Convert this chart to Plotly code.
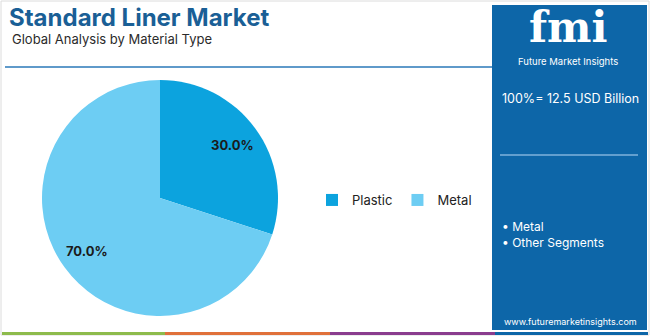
import math
import plotly.graph_objects as go

W, H = 650, 336
categories = ["Plastic", "Metal"]
shares = [30.0, 70.0]
colors = ["#0ca3de", "#6dcdf3"]
title = "Standard Liner Market"
subtitle = "Global Analysis by Material Type"
total_text = "100%= 12.5 USD Billion"
segments = ["Metal", "Other Segments"]
website = "www.futuremarketinsights.com"

def px(x): return x / W
def py(y): return 1 - y / H

# pie geometry (pixels)
CX, CY, R = 160, 198, 118

fig = go.Figure()
fig.add_trace(go.Pie(
    labels=categories, values=shares, sort=False, direction="clockwise", rotation=0,
    marker=dict(colors=colors, line=dict(width=0)),
    textinfo="none",
    domain=dict(x=[px(CX - R), px(CX + R)], y=[py(CY + R), py(CY - R)]),
    hoverinfo="label+percent",
))

shapes = []
shapes.append(dict(type="rect", xref="paper", yref="paper", x0=px(1), x1=px(649), y0=py(335), y1=py(1),
                   line=dict(color="#dcdcdc", width=1), fillcolor="rgba(0,0,0,0)", layer="below"))
shapes.append(dict(type="rect", xref="paper", yref="paper", x0=px(492), x1=px(647), y0=py(330), y1=py(5),
                   line=dict(width=0), fillcolor="#0d66a8", layer="below"))
shapes.append(dict(type="line", xref="paper", yref="paper", x0=px(5), x1=px(492), y0=py(67), y1=py(67),
                   line=dict(color="#2a78b8", width=1.5)))
shapes.append(dict(type="line", xref="paper", yref="paper", x0=px(500), x1=px(638), y0=py(155), y1=py(155),
                   line=dict(color="#7fb3dc", width=1.5)))
for x0, x1, c in [(2, 165, "#8dbb4c"), (165, 330, "#e0703a"), (330, 495, "#8a3c8e"), (495, 648, "#0d66a8")]:
    shapes.append(dict(type="rect", xref="paper", yref="paper", x0=px(x0), x1=px(x1), y0=py(335), y1=py(332),
                       line=dict(width=0), fillcolor=c))

ann = []
# percentage labels placed at slice mid-angles computed from the data
total = sum(shares)
cum = 0.0
for v in shares:
    mid = (cum + v / 2) / total * 2 * math.pi
    cum += v
    lx = CX + 0.76 * R * math.sin(mid)
    ly = CY - 0.76 * R * math.cos(mid)
    ann.append(dict(text=f"<b>{v / total * 100:.1f}%</b>", x=px(lx), y=py(ly), xanchor="center", yanchor="middle",
                    showarrow=False, font=dict(family="Inter", size=13, color="#1b1b1b")))

ann.append(dict(text=f"<b>{title}</b>", x=px(7), y=py(17), xanchor="left", yanchor="middle", showarrow=False,
                font=dict(family="Inter", size=24, color="#1a5f96")))
ann.append(dict(text=subtitle, x=px(10), y=py(39), xanchor="left", yanchor="middle", showarrow=False,
                font=dict(family="Inter", size=13, color="#2b2b2b")))
ann.append(dict(text="<b>fmi</b>", x=px(568), y=py(27), xanchor="center", yanchor="middle", showarrow=False,
                font=dict(family="DejaVu Serif", size=42, color="white")))
ann.append(dict(text="Future Market Insights", x=px(568), y=py(61), xanchor="center", yanchor="middle", showarrow=False,
                font=dict(family="Inter", size=9.5, color="white")))
ann.append(dict(text=total_text, x=px(500), y=py(98), xanchor="left", yanchor="middle", showarrow=False,
                font=dict(family="Inter", size=12.5, color="white")))
for i, s in enumerate(segments):
    ann.append(dict(text="• " + s, x=px(500), y=py(226 + 16 * i), xanchor="left", yanchor="middle", showarrow=False,
                    font=dict(family="Inter", size=12, color="white")))
ann.append(dict(text=website, x=px(570), y=py(321), xanchor="center", yanchor="middle", showarrow=False,
                font=dict(family="Inter", size=9, color="white")))

fig.update_layout(
    width=W, height=H, margin=dict(l=0, r=0, t=0, b=0),
    paper_bgcolor="white", plot_bgcolor="white",
    shapes=shapes, annotations=ann,
    showlegend=True,
    legend=dict(orientation="h", x=px(312), y=py(200), xanchor="left", yanchor="middle",
                font=dict(family="Inter", size=13, color="#222"), itemwidth=30,
                traceorder="normal", bgcolor="rgba(0,0,0,0)"),
)
fig.write_html("out.html")
